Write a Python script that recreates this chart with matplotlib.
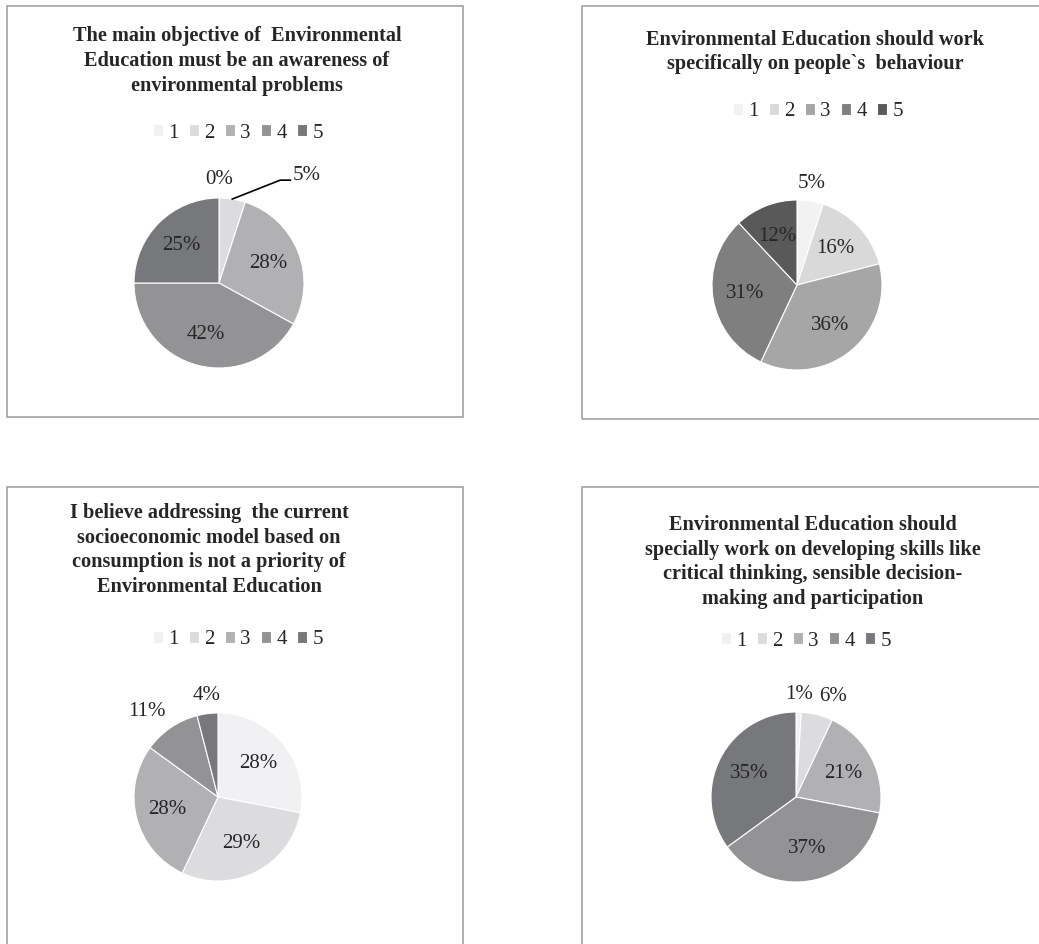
import numpy as np
import matplotlib
matplotlib.use("Agg")
import matplotlib.pyplot as plt
from matplotlib.patches import Rectangle

plt.rcParams['font.family'] = ['Liberation Serif', 'DejaVu Serif']

W, H = 1039, 944

# ---- data ----
categories = ['1', '2', '3', '4', '5']

titles = [
    "The main objective of  Environmental\nEducation must be an awareness of\nenvironmental problems",
    "Environmental Education should work\nspecifically on people`s  behaviour",
    "I believe addressing  the current\nsocioeconomic model based on\nconsumption is not a priority of\nEnvironmental Education",
    "Environmental Education should\nspecially work on developing skills like\ncritical thinking, sensible decision-\nmaking and participation",
]

q1_values = [0, 5, 28, 42, 25]
q2_values = [5, 16, 36, 31, 12]
q3_values = [28, 29, 28, 11, 4]
q4_values = [1, 6, 21, 37, 35]

grays_cool = ['#f1f1f3', '#dcdcde', '#b1b1b4', '#939396', '#77787b']
grays_plain = ['#f2f2f2', '#d9d9d9', '#a6a6a6', '#7f7f7f', '#595959']

# ---- layout (pixels) ----
# box, title centre, legend centre, pie centre, radius, labels outside, palette
panels = [
    dict(values=q1_values, title=titles[0], colors=grays_cool,
         box=(7, 6, 463, 417), title_xy=(237, 61), leg_xy=(238, 133),
         pie_xy=(219, 283), r=85, outside=[0], leader=[1]),
    dict(values=q2_values, title=titles[1], colors=grays_plain,
         box=(582, 6, 1046, 419), title_xy=(815, 52), leg_xy=(818, 112),
         pie_xy=(797, 285), r=85, outside=[0], leader=[]),
    dict(values=q3_values, title=titles[2], colors=grays_cool,
         box=(7, 487, 463, 950), title_xy=(209, 550), leg_xy=(238, 640),
         pie_xy=(218, 797), r=84, outside=[3, 4], leader=[]),
    dict(values=q4_values, title=titles[3], colors=grays_cool,
         box=(582, 487, 1046, 950), title_xy=(813, 562), leg_xy=(806, 641),
         pie_xy=(796, 797), r=85, outside=[0, 1], leader=[]),
]

TEXT_COLOR = '#262626'
LABEL_SIZE = 15

fig = plt.figure(figsize=(W / 100, H / 100), dpi=100)


def fx(x):
    return x / W


def fy(y):
    return 1 - y / H


for p in panels:
    x0, y0, x1, y1 = p['box']
    fig.add_artist(Rectangle((fx(x0), fy(y1)), fx(x1 - x0), (y1 - y0) / H,
                             transform=fig.transFigure, fill=False,
                             edgecolor='#9a9a9a', linewidth=1.1))

    fig.text(fx(p['title_xy'][0]), fy(p['title_xy'][1]), p['title'],
             ha='center', va='center', fontsize=14.6, fontweight='bold',
             color=TEXT_COLOR, linespacing=1.33)

    cx, cy = p['pie_xy']
    r = p['r']
    span = 1.6
    ax = fig.add_axes([fx(cx - span * r), fy(cy + span * r),
                       2 * span * r / W, 2 * span * r / H])
    wedges, _ = ax.pie(p['values'], colors=p['colors'], startangle=90,
                       counterclock=False, radius=1,
                       wedgeprops=dict(edgecolor='white', linewidth=0.8))
    ax.set_xlim(-span, span)
    ax.set_ylim(-span, span)
    ax.set_aspect('equal')
    ax.axis('off')

    for i, (w, v) in enumerate(zip(wedges, p['values'])):
        mid = np.deg2rad((w.theta1 + w.theta2) / 2)
        ux, uy = np.cos(mid), np.sin(mid)
        label = f'{v}%'
        if i in p['leader']:
            tx, ty = 0.87, 1.27
            ax.plot([ux, tx - 0.15, tx - 0.03], [uy, ty - 0.06, ty - 0.06],
                    color='black', linewidth=1.2, clip_on=False)
            ax.text(tx, ty, label, ha='left', va='center', fontsize=LABEL_SIZE,
                    color=TEXT_COLOR)
        elif i in p['outside']:
            d = 1.1
            ha = 'left' if ux > 0.2 else ('right' if ux < -0.2 else 'center')
            va = 'bottom' if uy > 0.3 else ('top' if uy < -0.3 else 'center')
            ax.text(d * ux, d * uy, label, ha=ha, va=va, fontsize=LABEL_SIZE,
                    color=TEXT_COLOR)
        else:
            d = 0.62
            ax.text(d * ux, d * uy, label, ha='center', va='center',
                    fontsize=LABEL_SIZE, color=TEXT_COLOR)

    fig.legend(wedges, categories, loc='center',
               bbox_to_anchor=(fx(p['leg_xy'][0]), fy(p['leg_xy'][1])),
               ncol=5, frameon=False, fontsize=15, handlelength=0.48,
               handleheight=0.48, handletextpad=0.25, columnspacing=0.5,
               borderpad=0, labelcolor=TEXT_COLOR)

fig.savefig('out.png', dpi=100, facecolor='white')
